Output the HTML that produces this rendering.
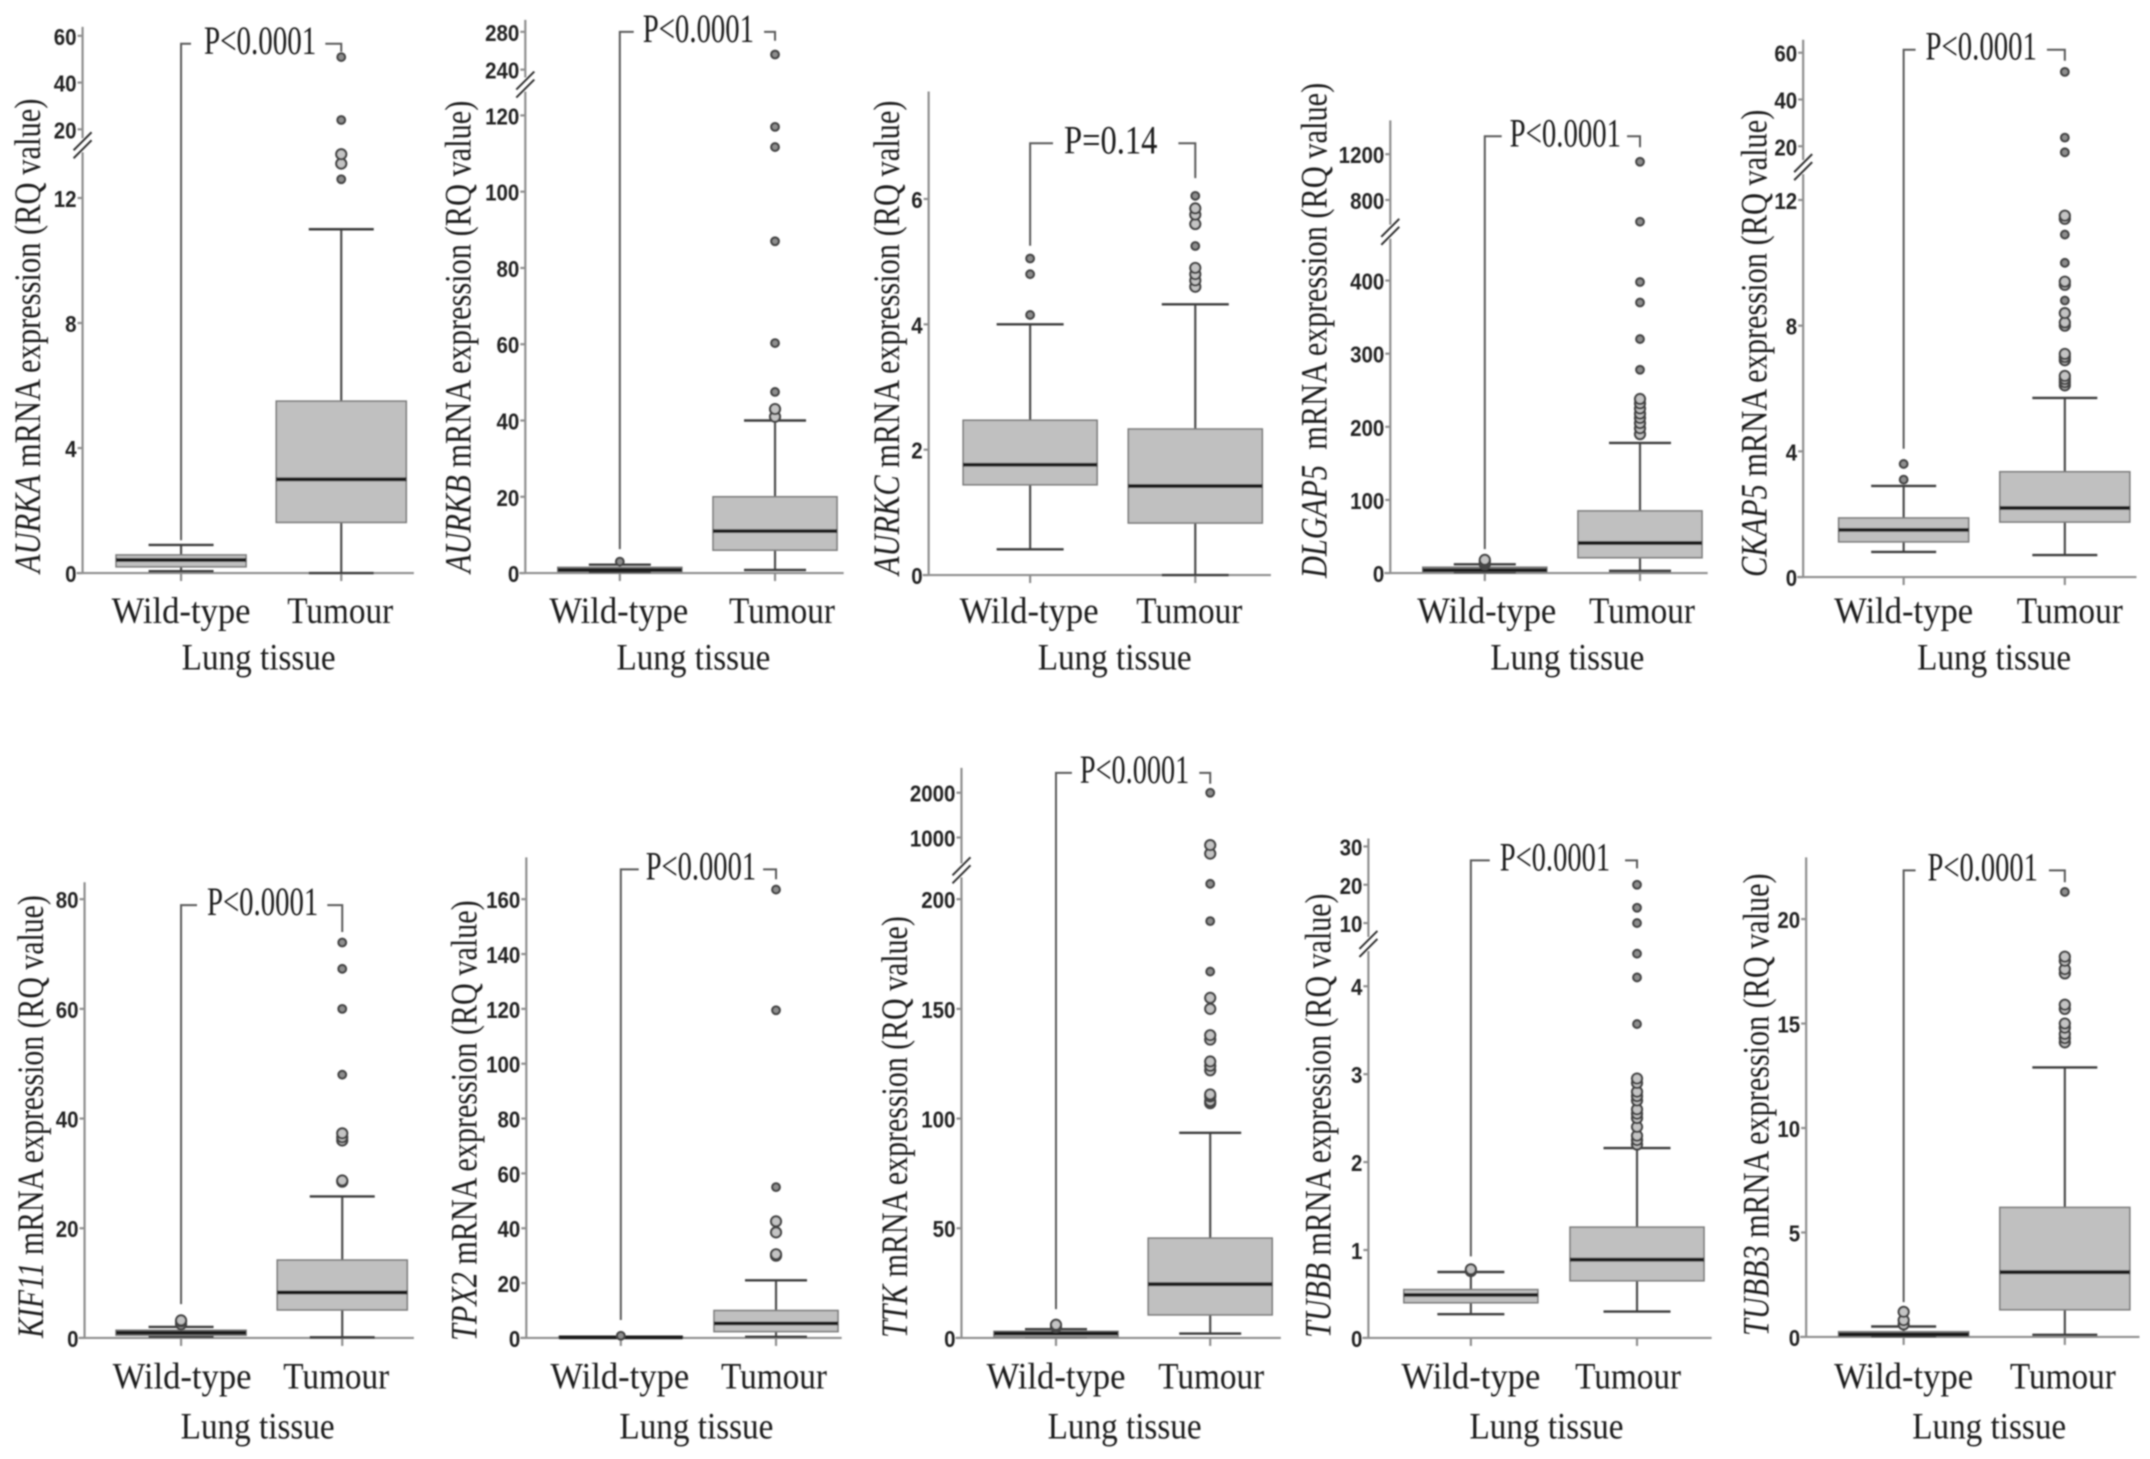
<!DOCTYPE html>
<html lang="en">
<head>
<meta charset="utf-8">
<title>Lung tissue mRNA expression box plots</title>
<style>
  html, body { margin: 0; padding: 0; background: #fff; }
  svg { display: block; }
  .lbl { font-family: "Liberation Serif", serif; fill: #1c1c1c; }
  .tick { font-family: "Liberation Sans", sans-serif; font-weight: bold; font-size: 23px; fill: #222; }
</style>
</head>
<body>
<svg id="chart" xmlns="http://www.w3.org/2000/svg" width="2150" height="1459" viewBox="0 0 2150 1459">
  <defs>
    <filter id="soft" x="-2%" y="-2%" width="104%" height="104%"><feGaussianBlur stdDeviation="0.7"/></filter>
  </defs>
  <rect width="2150" height="1459" fill="#fff"/>
  <g id="plots" filter="url(#soft)"></g>
</svg>
<script>
const genes = ['AURKA','AURKB','AURKC','DLGAP5','CKAP5','KIF11','TPX2','TTK','TUBB','TUBB3'];
const pLabels = ['P<0.0001','P<0.0001','P=0.14','P<0.0001','P<0.0001','P<0.0001','P<0.0001','P<0.0001','P<0.0001','P<0.0001'];
const groupLabels = ['Wild-type','Tumour'];
const xAxisLabel = 'Lung tissue';

const lowerTicks = [[0,4,8,12],[0,20,40,60,80,100,120],[0,2,4,6],[0,100,200,300,400],[0,4,8,12],[0,20,40,60,80],[0,20,40,60,80,100,120,140,160],[0,50,100,150,200],[0,1,2,3,4],[0,5,10,15,20]];
const upperTicks = [[20,40,60],[240,280],[],[800,1200],[20,40,60],[],[],[1000,2000],[10,20,30],[]];
const breakValues = [15,150,null,500,14.5,null,null,240,4.8,null];

const wildMin = [0.06,0.3,0.41,1,0.8,0.2,0.05,0.5,0.27,0.03];
const wildQ1 = [0.2,0.5,1.44,2,1.12,0.5,0.1,0.5,0.4,0.05];
const wildMedian = [0.42,0.8,1.76,4,1.5,0.95,0.2,2,0.49,0.12];
const wildQ3 = [0.58,1.5,2.47,8,1.88,1.4,0.3,3,0.55,0.25];
const wildMax = [0.9,2.2,4,12,2.9,2,0.4,4,0.75,0.5];
const wildOutliers = [[],[3],[4.15,4.8,5.05],[12,15,18],[3.1,3.6],[2.5,3,3.2],[0.8],[5,6],[0.76,0.78],[0.6,0.8,1.2]];

const tumourMin = [0,0.8,0,3,0.7,0.1,0.4,2,0.3,0.1];
const tumourQ1 = [1.62,6,0.83,21,1.75,5.1,2.3,10.5,0.65,1.3];
const tumourMedian = [3,11,1.42,41,2.2,8.3,5.3,24.5,0.89,3.1];
const tumourQ3 = [5.5,20,2.33,85,3.35,14.2,10,45.5,1.26,6.2];
const tumourMax = [11,40,4.32,178,5.7,25.8,21,93.5,2.16,12.9];
const tumourOutliers = [
  [12.6,13.1,13.4,24,50.9],
  [41,43,47.5,60.3,87,111.7,117,256],
  [4.6,4.7,4.8,4.9,5.25,5.6,5.75,5.85,6.05],
  [190,198,205,212,218,225,232,238,278,320,370,398,610,1134],
  [6.1,6.2,6.3,6.4,6.9,7,7.1,8,8.1,8.4,8.8,9.3,9.4,10,10.9,11.4,11.5,17.4,23.7,51.8],
  [28.5,28.7,36,36.6,37.3,48,60,67.3,72.1],
  [30,30.5,38.5,42.5,55,119.5,163.5],
  [107,108,110,111,122,124,126,136,138,150,155,167,190,207,640,830,2000],
  [2.2,2.25,2.3,2.4,2.5,2.55,2.6,2.7,2.75,2.8,2.9,2.95,3.57,4.1,4.37,10,14,20],
  [14.1,14.3,14.5,14.8,15,15.7,15.9,17.4,17.6,18,18.2,21.3]
];

/* Page layout for each panel (pixels), separate from the data above. */
const layouts = [
  {ax:83,axEnd:416,top:27,base:576,lowPx:199,upPx:[130,36],breakY:146,wx:182,tx:343,bh:65,tt:[40,576,99],wl:182,tl:342,lung:260,ly:626,lungY:672,p:[543,44,192,205,318,327,52]},
  {ax:528,axEnd:848,top:20,base:576,lowPx:116,upPx:[70,32],breakY:85,wx:623,tx:779,bh:62,tt:[473,576,101],wl:622,tl:786,lung:697,ly:626,lungY:672,p:[552,32,637,646,758,768,41]},
  {ax:929,axEnd:1273,top:92,base:578,lowPx:200,upPx:null,breakY:0,wx:1031,tx:1197,bh:67,tt:[899,578,101],wl:1030,tl:1191,lung:1116,ly:626,lungY:672,p:[247,144,1054,1065,1159,1180,179]},
  {ax:1393,axEnd:1712,top:121,base:576,lowPx:282,upPx:[201,155],breakY:233,wx:1488,tx:1644,bh:62,tt:[1329,581,83],wl:1490,tl:1646,lung:1571,ly:626,lungY:672,p:[552,137,1505,1513,1625,1631,148]},
  {ax:1808,axEnd:2143,top:40,base:580,lowPx:201,upPx:[147,53],breakY:168,wx:1909,tx:2071,bh:65,tt:[1771,580,110],wl:1909,tl:2076,lung:2000,ly:626,lungY:672,p:[451,50,1921,1931,2043,2053,61]},
  {ax:85,axEnd:416,top:883,base:1341,lowPx:900,upPx:null,breakY:0,wx:182,tx:344,bh:65,tt:[43,1341,896],wl:183,tl:338,lung:259,ly:1392,lungY:1441,p:[1307,906,198,208,320,329,933]},
  {ax:529,axEnd:846,top:858,base:1341,lowPx:900,upPx:null,breakY:0,wx:624,tx:780,bh:62,tt:[479,1344,901],wl:623,tl:778,lung:700,ly:1392,lungY:1441,p:[1323,870,642,649,760,767,880]},
  {ax:962,axEnd:1283,top:768,base:1341,lowPx:900,upPx:[838,793],breakY:871,wx:1057,tx:1212,bh:62,tt:[907,1341,917],wl:1057,tl:1213,lung:1126,ly:1392,lungY:1441,p:[1312,773,1073,1081,1191,1201,784]},
  {ax:1371,axEnd:1716,top:839,base:1341,lowPx:987.5,upPx:[924,847],breakY:945,wx:1474,tx:1641,bh:67,tt:[1333,1341,894],wl:1474,tl:1632,lung:1550,ly:1392,lungY:1441,p:[1259,861,1493,1503,1614,1629,869]},
  {ax:1811,axEnd:2146,top:858,base:1340,lowPx:920,upPx:null,breakY:0,wx:1909,tx:2071,bh:65,tt:[1773,1339,874],wl:1909,tl:2069,lung:1995,ly:1392,lungY:1441,p:[1305,871,1921,1933,2044,2055,883]}
];

/* Fine calibration of the measured layout against the reference grid. */
const calScale = 0.9949;
layouts.forEach(function (L, i) {
  const x0 = (i === 0 || i === 1 || i === 5 || i === 6) ? 0 : 860;
  const y0 = i < 5 ? 0 : 740;
  const fx = function (v) { return x0 + (v - x0) * calScale; };
  const fy = function (v) { return y0 + (v - y0) * calScale; };
  ['ax','axEnd','wx','tx','wl','tl','lung'].forEach(function (k) { L[k] = fx(L[k]); });
  ['top','base','lowPx','breakY','ly','lungY'].forEach(function (k) { L[k] = fy(L[k]); });
  if (L.upPx) L.upPx = L.upPx.map(fy);
  L.tt = [fx(L.tt[0]), fy(L.tt[1]), fy(L.tt[2])];
  L.p = [fy(L.p[0]), fy(L.p[1]), fx(L.p[2]), fx(L.p[3]), fx(L.p[4]), fx(L.p[5]), fy(L.p[6])];
});

const NS = 'http://www.w3.org/2000/svg';
const root = document.getElementById('plots');

function mk(tag, attrs, parent) {
  const el = document.createElementNS(NS, tag);
  for (const k in attrs) el.setAttribute(k, attrs[k]);
  parent.appendChild(el);
  return el;
}

/* y axis function: piecewise linear with an optional broken upper segment. */
function yScale(i) {
  const L = layouts[i], lo = lowerTicks[i], up = upperTicks[i], brk = breakValues[i];
  const loTop = lo[lo.length - 1];
  return function (v) {
    if (brk !== null && v > brk) {
      const a = up[0], b = up[up.length - 1];
      return L.upPx[0] + (v - a) / (b - a) * (L.upPx[1] - L.upPx[0]);
    }
    return L.base + (v / loTop) * (L.lowPx - L.base);
  };
}

/* Place text so that its inked run measures the target width. */
function fit(el, x, y, w, rot) {
  const nat = el.getComputedTextLength();
  const sx = nat > 0 ? w / nat : 1;
  el.setAttribute('transform', 'translate(' + x + ' ' + y + ') rotate(' + (rot || 0) + ') scale(' + sx + ' 1)');
}

function drawBox(g, i, cx, stats, outliers, y, L, label) {
  const capHalf = L.bh / 2;
  const whisker = mk('line', {x1:cx, x2:cx, y1:y(stats[0]), y2:y(stats[4]), stroke:'#4d4d4d', 'stroke-width':2.2}, g);
  
  
  const capHi = mk('line', {x1:cx - capHalf, x2:cx + capHalf, y1:y(stats[4]), y2:y(stats[4]), stroke:'#3d3d3d', 'stroke-width':2.4}, g);
  
  
  const capLo = mk('line', {x1:cx - capHalf, x2:cx + capHalf, y1:y(stats[0]), y2:y(stats[0]), stroke:'#3d3d3d', 'stroke-width':2.4}, g);
  
  
  const top = y(stats[3]), bot = y(stats[1]);
  const box = mk('rect', {x:cx - L.bh, y:top, width:L.bh * 2, height:Math.max(bot - top, 0.5), fill:'#c0c0c0', stroke:'#7d7d7d', 'stroke-width':1.6}, g);
  
  
  const med = mk('line', {x1:cx - L.bh, x2:cx + L.bh, y1:y(stats[2]), y2:y(stats[2]), stroke:'#1a1a1a', 'stroke-width':3.8}, g);
  
  
  const ys = outliers.map(y);
  outliers.forEach(function (v, k) {
    const near = ys.some(function (o, m) { return m !== k && Math.abs(o - ys[k]) < 11; });
    const dot = mk('circle', {cx:cx, cy:ys[k], r:near ? 5 : 3.8, fill:near ? '#c4c4c4' : '#8f8f8f', stroke:'#444', 'stroke-width':2.2}, g);
    
    
  });
}

genes.forEach(function (gene, i) {
  const L = layouts[i], y = yScale(i);
  const g = mk('g', {}, root);
  
  

  /* axes */
  const axisStyle = {stroke:'#8f8f8f', 'stroke-width':2.2, fill:'none'};
  const xAxis = mk('line', Object.assign({x1:L.ax - 6, x2:L.axEnd, y1:L.base, y2:L.base}, axisStyle), g);
  
  
  if (L.upPx) {
    const lower = mk('line', Object.assign({x1:L.ax, x2:L.ax, y1:L.base, y2:L.breakY + 7}, axisStyle), g);
    
    
    const upper = mk('line', Object.assign({x1:L.ax, x2:L.ax, y1:L.breakY - 7, y2:L.top}, axisStyle), g);
    
    
    [-4, 4].forEach(function (d) {
      const slash = mk('line', {x1:L.ax - 9, x2:L.ax + 9, y1:L.breakY + 9 + d, y2:L.breakY - 9 + d, stroke:'#333', 'stroke-width':2}, g);
      
      
    });
  } else {
    const yAxis = mk('line', Object.assign({x1:L.ax, x2:L.ax, y1:L.base, y2:L.top}, axisStyle), g);
    
    
  }

  /* ticks */
  lowerTicks[i].concat(upperTicks[i]).forEach(function (v) {
    const py = y(v);
    const tk = mk('line', Object.assign({x1:L.ax - 5, x2:L.ax, y1:py, y2:py}, axisStyle), g);
    
    
    const t = mk('text', {'class':'tick', x:0, y:0}, g);
    
    
    t.textContent = String(v);
    const w = String(v).length * 11.4;
    fit(t, L.ax - 6 - w, py + 9, w, 0);
  });
  [L.wx, L.tx].forEach(function (cx) {
    const tk = mk('line', Object.assign({x1:cx, x2:cx, y1:L.base, y2:L.base + 8}, axisStyle), g);
    
    
  });

  /* significance bracket (behind the boxes) */
  const b = L.p;
  const bracketL = mk('path', {d:'M' + L.wx + ' ' + b[0] + 'V' + b[1] + 'H' + b[2], fill:'none', stroke:'#5a5a5a', 'stroke-width':2}, g);
  
  
  const bracketR = mk('path', {d:'M' + b[5] + ' ' + b[1] + 'H' + L.tx + 'V' + b[6], fill:'none', stroke:'#5a5a5a', 'stroke-width':2}, g);
  
  
  const pt = mk('text', {'class':'lbl', 'font-size':40, x:0, y:0}, g);
  
  
  pt.textContent = pLabels[i];
  fit(pt, b[3], b[1] + 10, b[4] - b[3], 0);

  /* boxes */
  drawBox(g, i, L.wx, [wildMin[i], wildQ1[i], wildMedian[i], wildQ3[i], wildMax[i]], wildOutliers[i], y, L, 'wild-type');
  drawBox(g, i, L.tx, [tumourMin[i], tumourQ1[i], tumourMedian[i], tumourQ3[i], tumourMax[i]], tumourOutliers[i], y, L, 'tumour');

  /* labels */
  const wl = mk('text', {'class':'lbl', 'font-size':37, x:0, y:0}, g);
  
  
  wl.textContent = groupLabels[0];
  fit(wl, L.wl - 69.5, L.ly, 139, 0);
  const tl = mk('text', {'class':'lbl', 'font-size':37, x:0, y:0}, g);
  
  
  tl.textContent = groupLabels[1];
  fit(tl, L.tl - 53, L.ly, 106, 0);
  const lt = mk('text', {'class':'lbl', 'font-size':37, x:0, y:0}, g);
  
  
  lt.textContent = xAxisLabel;
  fit(lt, L.lung - 77, L.lungY + 1, 154, 0);

  const title = mk('text', {'class':'lbl', 'font-size':37, x:0, y:0}, g);
  
  
  const it = mk('tspan', {'font-style':'italic'}, title);
  
  
  it.textContent = gene;
  const rest = mk('tspan', {}, title);
  
  
  rest.textContent = (gene === 'DLGAP5' ? '\u00a0 ' : ' ') + 'mRNA expression (RQ value)';
  fit(title, L.tt[0], L.tt[1], L.tt[1] - L.tt[2], -90);
});
</script>
</body>
</html>
